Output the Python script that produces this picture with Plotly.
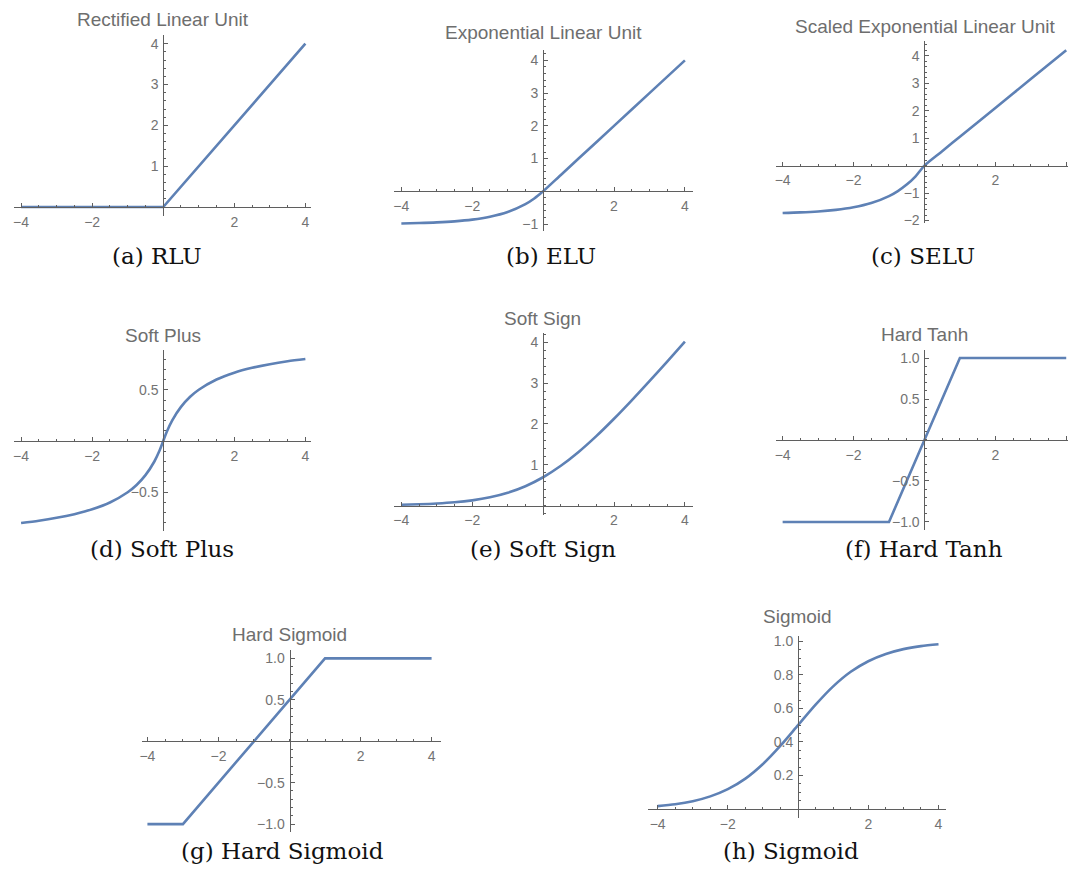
import plotly.graph_objects as go

# ---------------- data ----------------
titles = ["Rectified Linear Unit", "Exponential Linear Unit", "Scaled Exponential Linear Unit",
          "Soft Plus", "Soft Sign", "Hard Tanh", "Hard Sigmoid", "Sigmoid"]
captions = ["(a) RLU", "(b) ELU", "(c) SELU", "(d) Soft Plus", "(e) Soft Sign",
            "(f) Hard Tanh", "(g) Hard Sigmoid", "(h) Sigmoid"]

rlu_x = [-4, 0, 4]
rlu_y = [0, 0, 4]

elu_x = [-4, -3.5, -3, -2.5, -2, -1.5, -1, -0.5, -0.25, 0, 0.5, 1, 2, 3, 4]
elu_y = [-0.982, -0.970, -0.950, -0.918, -0.865, -0.777, -0.632, -0.393, -0.221, 0, 0.5, 1, 2, 3, 4]

selu_x = [-4, -3.5, -3, -2.5, -2, -1.5, -1, -0.75, -0.5, -0.25, 0, 0.5, 1, 2, 3, 4]
selu_y = [-1.726, -1.705, -1.671, -1.614, -1.520, -1.366, -1.111, -0.928, -0.692, -0.389, 0,
          0.525, 1.051, 2.101, 3.152, 4.203]

softplus_x = [-4, -3.5, -3, -2.5, -2, -1.5, -1, -0.75, -0.5, -0.25, -0.1, 0, 0.1, 0.25, 0.5,
              0.75, 1, 1.5, 2, 2.5, 3, 3.5, 4]
softplus_y = [-0.8, -0.778, -0.75, -0.714, -0.667, -0.6, -0.5, -0.429, -0.333, -0.2, -0.091, 0,
              0.091, 0.2, 0.333, 0.429, 0.5, 0.6, 0.667, 0.714, 0.75, 0.778, 0.8]

softsign_x = [-4, -3.5, -3, -2.5, -2, -1.5, -1, -0.5, 0, 0.5, 1, 1.5, 2, 2.5, 3, 3.5, 4]
softsign_y = [0.018, 0.030, 0.049, 0.079, 0.127, 0.201, 0.313, 0.474, 0.693, 0.974, 1.313,
              1.701, 2.127, 2.579, 3.049, 3.530, 4.018]

hardtanh_x = [-4, -1, 1, 4]
hardtanh_y = [-1, -1, 1, 1]

hardsig_x = [-4, -3, 1, 4]
hardsig_y = [-1, -1, 1, 1]

sigmoid_x = [-4, -3.5, -3, -2.5, -2, -1.5, -1, -0.5, 0, 0.5, 1, 1.5, 2, 2.5, 3, 3.5, 4]
sigmoid_y = [0.018, 0.029, 0.047, 0.076, 0.119, 0.182, 0.269, 0.378, 0.5, 0.622, 0.731,
             0.818, 0.881, 0.924, 0.953, 0.971, 0.982]

x_ticks = [-4, -2, 2, 4]
x_ticklabels = ["\u22124", "\u22122", "2", "4"]
y_ticks_int4 = [1, 2, 3, 4]
y_ticklabels_int4 = ["1", "2", "3", "4"]
y_ticks_elu = [-1, 1, 2, 3, 4]
y_ticklabels_elu = ["\u22121", "1", "2", "3", "4"]
y_ticks_selu = [-2, -1, 1, 2, 3, 4]
y_ticklabels_selu = ["\u22122", "\u22121", "1", "2", "3", "4"]
y_ticks_half = [-0.5, 0.5]
y_ticklabels_half = ["\u22120.5", "0.5"]
y_ticks_unit = [-1.0, -0.5, 0.5, 1.0]
y_ticklabels_unit = ["\u22121.0", "\u22120.5", "0.5", "1.0"]
y_ticks_sig = [0.2, 0.4, 0.6, 0.8, 1.0]
y_ticklabels_sig = ["0.2", "0.4", "0.6", "0.8", "1.0"]

series = [
    (rlu_x, rlu_y, False, y_ticks_int4, y_ticklabels_int4),
    (elu_x, elu_y, True, y_ticks_elu, y_ticklabels_elu),
    (selu_x, selu_y, True, y_ticks_selu, y_ticklabels_selu),
    (softplus_x, softplus_y, True, y_ticks_half, y_ticklabels_half),
    (softsign_x, softsign_y, True, y_ticks_int4, y_ticklabels_int4),
    (hardtanh_x, hardtanh_y, False, y_ticks_unit, y_ticklabels_unit),
    (hardsig_x, hardsig_y, False, y_ticks_unit, y_ticklabels_unit),
    (sigmoid_x, sigmoid_y, True, y_ticks_sig, y_ticklabels_sig),
]

# ---------------- layout / style ----------------
W, H = 1068, 882
panels = [
    dict(box=(12, 310, 32, 215), xr=(-4.2, 4.17), yr=(-0.22, 4.22), ym=0.2,
         title_xy=(161, 17), cap_xy=(155, 255)),
    dict(box=(393, 692, 47, 230), xr=(-4.2, 4.22), yr=(-1.21, 4.33), ym=0.2,
         title_xy=(543, 30), cap_xy=(550, 255)),
    dict(box=(775, 1068, 38, 222), xr=(-4.2, 4.05), yr=(-2.09, 4.55), ym=0.2,
         title_xy=(925, 24), cap_xy=(923, 255)),
    dict(box=(12, 310, 350, 533), xr=(-4.2, 4.17), yr=(-0.88, 0.89), ym=0.1,
         title_xy=(161, 336), cap_xy=(160, 551)),
    dict(box=(393, 692, 333, 517), xr=(-4.2, 4.22), yr=(-0.24, 4.23), ym=0.2,
         title_xy=(542, 318), cap_xy=(542, 551)),
    dict(box=(775, 1068, 350, 532), xr=(-4.2, 4.05), yr=(-1.1, 1.1), ym=0.1,
         title_xy=(924, 335), cap_xy=(924, 551)),
    dict(box=(140, 440, 653, 837), xr=(-4.16, 4.27), yr=(-1.1, 1.1), ym=0.1,
         title_xy=(288, 637), cap_xy=(281, 856)),
    dict(box=(647, 946, 639, 822), xr=(-4.28, 4.22), yr=(-0.05, 1.03), ym=0.05,
         title_xy=(797, 619), cap_xy=(790, 856)),
]

LINE_COLOR = "#5E81B5"
AXIS_COLOR = "#5f5f5f"
TICKFONT = dict(family="Liberation Sans, Arial, sans-serif", size=14, color="#737373")
TITLEFONT = dict(family="Liberation Sans, Arial, sans-serif", size=19, color="#6e6e6e")
CAPFONT = dict(family="DejaVu Serif, serif", size=23, color="#111111")

fig = go.Figure()
annotations = []
for i, (p, (sx, sy, smooth, yt, ytl)) in enumerate(zip(panels, series)):
    n = "" if i == 0 else str(i + 1)
    l, r, t, b = p["box"]
    xr, yr = p["xr"], p["yr"]
    xd = [l / W, r / W]
    yd = [1 - b / H, 1 - t / H]
    x0_paper = xd[0] + (0 - xr[0]) / (xr[1] - xr[0]) * (xd[1] - xd[0])
    y0_paper = yd[0] + (0 - yr[0]) / (yr[1] - yr[0]) * (yd[1] - yd[0])

    fig.add_trace(go.Scatter(
        x=sx, y=sy, mode="lines", xaxis="x" + n, yaxis="y" + n,
        line=dict(color=LINE_COLOR, width=2.6, shape="spline" if smooth else "linear",
                  smoothing=0.8),
        hoverinfo="skip", showlegend=False))

    common = dict(showgrid=False, zeroline=False, showline=True, linecolor=AXIS_COLOR,
                  linewidth=1, ticks="inside", ticklen=4, tickwidth=1, tickcolor=AXIS_COLOR,
                  tickfont=TICKFONT, anchor="free", fixedrange=True, ticklabelstandoff=2)
    fig.update_layout(**{
        "xaxis" + n: dict(common, domain=xd, range=list(xr), position=y0_paper,
                          tickmode="array", tickvals=x_ticks, ticktext=x_ticklabels,
                          minor=dict(dtick=0.5, tick0=0, ticks="inside", ticklen=2,
                                     tickcolor=AXIS_COLOR, showgrid=False)),
        "yaxis" + n: dict(common, domain=yd, range=list(yr), position=x0_paper,
                          tickmode="array", tickvals=yt, ticktext=ytl,
                          minor=dict(dtick=p["ym"], tick0=0, ticks="inside", ticklen=2,
                                     tickcolor=AXIS_COLOR, showgrid=False)),
    })

    tx, ty = p["title_xy"]
    annotations.append(dict(text=titles[i], x=tx / W, y=1 - ty / H, xref="paper", yref="paper",
                            xanchor="center", yanchor="middle", showarrow=False, font=TITLEFONT))
    cx, cy = p["cap_xy"]
    annotations.append(dict(text=captions[i], x=cx / W, y=1 - cy / H, xref="paper", yref="paper",
                            xanchor="center", yanchor="middle", showarrow=False, font=CAPFONT))

fig.update_layout(width=W, height=H, margin=dict(l=0, r=0, t=0, b=0),
                  paper_bgcolor="white", plot_bgcolor="white", annotations=annotations,
                  showlegend=False)

fig.write_html("out.html")
